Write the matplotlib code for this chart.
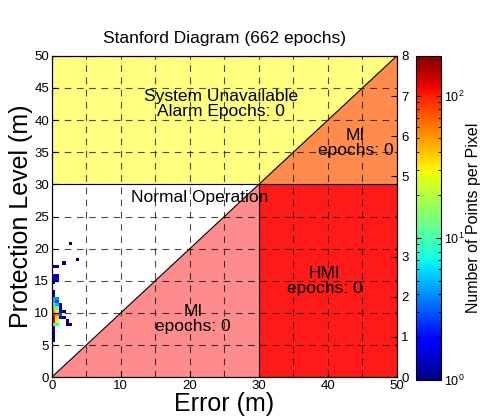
import numpy as np
import matplotlib
matplotlib.use("Agg")
import matplotlib.pyplot as plt
from matplotlib.colors import LogNorm
from matplotlib.patches import Polygon

plt.rcParams['font.family'] = ['Liberation Sans', 'DejaVu Sans']

# =========================
# データ (0.5 m ビン)
# =========================
BIN = 0.5
n_epochs = 662
# セル左下 (誤差, 保護レベル) と点数
err_cells = [0.0, 0.0, 0.0, 0.0, 0.0, 0.0, 0.0, 0.0, 0.0, 0.0, 0.0, 0.0, 0.0, 0.0, 0.0, 0.0,
             0.0, 0.0, 0.0, 0.0,
             0.5, 0.5, 0.5, 0.5, 0.5, 0.5, 0.5, 0.5, 0.5, 0.5, 0.5, 0.5,
             1.0, 1.0, 1.0, 1.0, 1.0,
             1.5, 1.5, 2.0, 2.0, 1.5, 2.5, 2.5, 3.5]
pl_cells = [5.5, 6.0, 6.5, 7.0, 7.5, 8.0, 8.5, 9.0, 9.5, 10.0, 10.5, 11.0, 11.5, 12.0, 12.5, 13.0,
            14.5, 15.0, 15.5, 17.0,
            8.0, 8.5, 9.0, 9.5, 10.0, 10.5, 11.0, 11.5, 12.0, 15.0, 15.5, 17.0,
            9.0, 9.5, 10.0, 10.5, 11.0,
            9.0, 10.0, 8.5, 8.0, 17.5, 8.0, 20.5, 18.0]
counts = [1, 1, 1, 2, 1, 20, 120, 140, 90, 50, 45, 10, 5, 5, 2, 1,
          1, 2, 2, 1,
          8, 25, 35, 60, 25, 12, 5, 3, 4, 2, 1, 1,
          2, 3, 2, 1, 1,
          1, 1, 1, 1, 1, 1, 1, 1]

x_ticks = [0, 10, 20, 30, 40, 50]
y_ticks = [0, 5, 10, 15, 20, 25, 30, 35, 40, 45, 50]
right_ticks = [0, 1, 2, 3, 5, 6, 7, 8]

AL = 30  # alarm limit

# =========================
# 図
# =========================
fig = plt.figure(figsize=(4.84, 4.2), dpi=100)
ax = fig.add_axes([0.107, 0.102, 0.713, 0.765])

# 領域
ax.add_patch(Polygon([(0, AL), (AL, AL), (50, 50), (0, 50)], closed=True,
                     facecolor="#ffff80", edgecolor="none", zorder=0))
ax.add_patch(Polygon([(AL, AL), (50, AL), (50, 50)], closed=True,
                     facecolor="#ff8c4c", edgecolor="none", zorder=0))
ax.add_patch(Polygon([(AL, 0), (50, 0), (50, AL), (AL, AL)], closed=True,
                     facecolor="#ff1a1a", edgecolor="none", zorder=0))
ax.add_patch(Polygon([(0, 0), (AL, 0), (AL, AL)], closed=True,
                     facecolor="#ff8c8c", edgecolor="none", zorder=0))
ax.plot([0, 50], [0, 50], color="k", lw=0.8, zorder=3)
ax.plot([0, 50], [AL, AL], color="k", lw=0.8, zorder=3)
ax.plot([AL, AL], [0, AL], color="k", lw=0.8, zorder=3)

# ヒストグラム
xe = np.arange(0, 50 + BIN, BIN)
ye = np.arange(0, 50 + BIN, BIN)
H = np.full((len(ye) - 1, len(xe) - 1), np.nan)
for ex, py, c in zip(err_cells, pl_cells, counts):
    H[int(round(py / BIN)), int(round(ex / BIN))] = c
mesh = ax.pcolormesh(xe, ye, np.ma.masked_invalid(H), cmap="jet",
                     norm=LogNorm(vmin=1, vmax=190), zorder=2)

ax.set_xlim(0, 50)
ax.set_ylim(0, 50)
ax.set_xticks(x_ticks)
ax.set_yticks(y_ticks)
ax.tick_params(direction="in", labelsize=9.5, top=False, right=False, length=4, pad=2)
ax.grid(True, color="k", ls=(0, (6, 5)), lw=0.8, alpha=0.7, zorder=4)
ax.set_axisbelow(False)
ax.set_xticks(np.arange(0, 51, 5), minor=True)
ax.tick_params(which="minor", length=0)
ax.xaxis.grid(True, which="minor", color="k", ls=(0, (6, 5)), lw=0.8, alpha=0.7)

ax.set_xlabel("Error (m)", fontsize=18, labelpad=0)
ax.set_ylabel("Protection Level (m)", fontsize=18, labelpad=1)
ax.set_title("Stanford Diagram (%d epochs)" % n_epochs, fontsize=12.5, pad=9)

tk = dict(ha="center", va="center", fontsize=12.5, zorder=5)
ax.text(24.5, 42.5, "System Unavailable\nAlarm Epochs: 0", linespacing=1.0, **tk)
ax.text(44, 36.5, "MI\nepochs: 0", linespacing=1.0, **tk)
ax.text(21.5, 28, "Normal Operation", **tk)
ax.text(39.5, 15, "HMI\nepochs: 0", linespacing=1.0, **tk)
ax.text(20.5, 9, "MI\nepochs: 0", linespacing=1.0, **tk)

# 右軸
ax2 = ax.twinx()
ax2.set_ylim(0, 8)
ax2.set_yticks(right_ticks)
ax2.tick_params(direction="in", labelsize=9.5, length=4, pad=3)

# カラーバー
cax = fig.add_axes([0.860, 0.095, 0.052, 0.772])
cb = fig.colorbar(mesh, cax=cax)
cb.set_label("Number of Points per Pixel", fontsize=11.5, labelpad=1)
cax.tick_params(which="both", direction="in", labelsize=9, left=True, pad=2)

fig.savefig("out.png", dpi=100)
